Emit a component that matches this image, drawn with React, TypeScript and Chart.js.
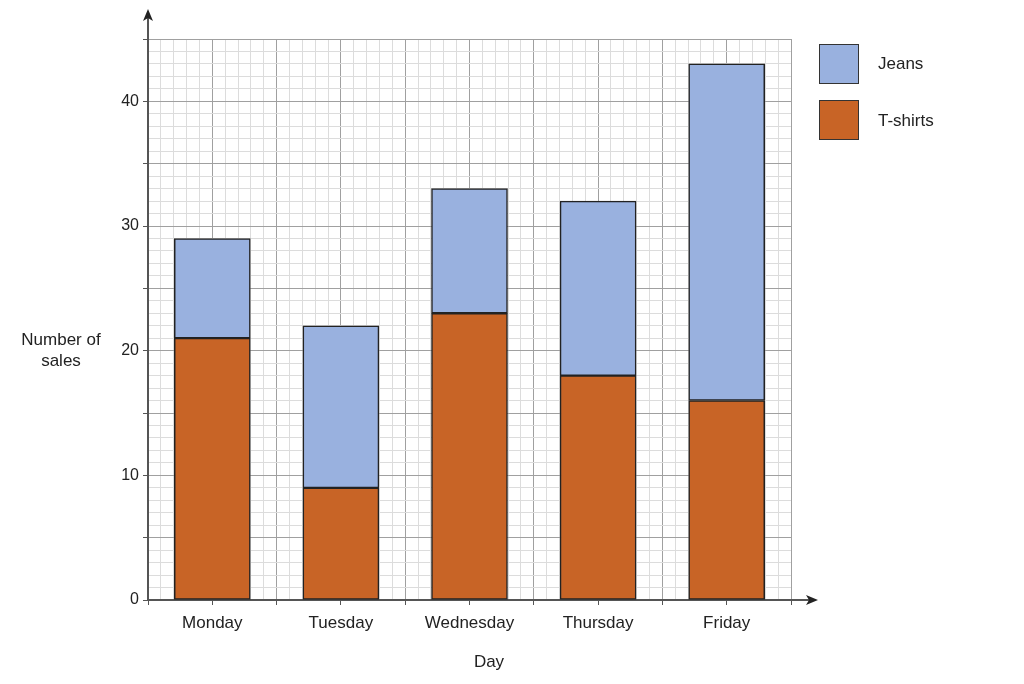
import React, { useEffect, useRef } from "react";
import { Chart, registerables } from "chart.js";

Chart.register(...registerables);

const days = ["Monday", "Tuesday", "Wednesday", "Thursday", "Friday"];
const dayPositions = [5, 15, 25, 35, 45];
const tshirts = [21, 9, 23, 18, 16];
const jeans = [8, 13, 10, 14, 27];
const yTickLabels = [0, 10, 20, 30, 40];

const FONT = "'Liberation Sans', Arial, sans-serif";
const JEANS_COLOR = "#99b1df";
const TSHIRT_COLOR = "#c86426";
const MAJOR = "#a0a0a0";
const MINOR = "#dcdcdc";

const arrowPlugin = {
  id: "axisArrows",
  afterDraw(chart: any) {
    const { ctx, chartArea } = chart;
    const { left, top, right, bottom } = chartArea;
    ctx.save();
    ctx.strokeStyle = "#555";
    ctx.fillStyle = "#222";
    ctx.lineWidth = 2;
    ctx.beginPath();
    ctx.moveTo(left, top);
    ctx.lineTo(left, 17);
    ctx.stroke();
    ctx.beginPath();
    ctx.moveTo(left, 9);
    ctx.lineTo(left - 5, 21);
    ctx.lineTo(left, 18);
    ctx.lineTo(left + 5, 21);
    ctx.closePath();
    ctx.fill();
    ctx.beginPath();
    ctx.moveTo(right, bottom);
    ctx.lineTo(right + 18, bottom);
    ctx.stroke();
    ctx.beginPath();
    ctx.moveTo(right + 27, bottom);
    ctx.lineTo(right + 15, bottom - 5);
    ctx.lineTo(right + 18, bottom);
    ctx.lineTo(right + 15, bottom + 5);
    ctx.closePath();
    ctx.fill();
    ctx.restore();
  },
};

export default function App() {
  const canvasRef = useRef<HTMLCanvasElement | null>(null);

  useEffect(() => {
    if (!canvasRef.current) return;
    const chart = new Chart(canvasRef.current, {
      type: "bar",
      data: {
        datasets: [
          {
            label: "T-shirts",
            data: dayPositions.map((x, i) => ({ x, y: tshirts[i] })),
            backgroundColor: TSHIRT_COLOR,
            borderColor: "#222",
            borderWidth: 1.5,
            borderSkipped: false,
            barThickness: 76,
          },
          {
            label: "Jeans",
            data: dayPositions.map((x, i) => ({ x, y: jeans[i] })),
            backgroundColor: JEANS_COLOR,
            borderColor: "#222",
            borderWidth: 1.5,
            borderSkipped: false,
            barThickness: 76,
          },
        ],
      },
      options: {
        responsive: false,
        animation: false,
        layout: { padding: { top: 39, right: 233, left: 0, bottom: 0 } },
        plugins: { legend: { display: false }, tooltip: { enabled: false } },
        scales: {
          x: {
            type: "linear",
            stacked: true,
            min: 0,
            max: 50,
            offset: false,
            afterFit(scale: any) {
              scale.height = 84;
            },
            border: { display: true, color: "#555", width: 2 },
            grid: {
              offset: false,
              color: (c: any) => (c.tick && c.tick.value % 5 === 0 ? MAJOR : MINOR),
              tickColor: (c: any) => (c.tick && c.tick.value % 5 === 0 ? "#555" : "rgba(0,0,0,0)"),
              tickLength: 5,
              lineWidth: 1,
            },
            ticks: {
              stepSize: 1,
              autoSkip: false,
              maxRotation: 0,
              minRotation: 0,
              padding: 8,
              color: "#222",
              font: { family: FONT, size: 17 },
              callback: (v: any) => {
                const i = dayPositions.indexOf(Number(v));
                return i >= 0 ? days[i] : "";
              },
            },
          },
          y: {
            type: "linear",
            stacked: true,
            min: 0,
            max: 45,
            afterFit(scale: any) {
              scale.width = 148;
            },
            border: { display: true, color: "#555", width: 2 },
            grid: {
              color: (c: any) => (c.tick && c.tick.value % 5 === 0 ? MAJOR : MINOR),
              tickColor: (c: any) => (c.tick && c.tick.value % 5 === 0 ? "#555" : "rgba(0,0,0,0)"),
              tickLength: 5,
              lineWidth: 1,
            },
            ticks: {
              stepSize: 1,
              autoSkip: false,
              padding: 4,
              color: "#222",
              font: { family: FONT, size: 16 },
              callback: (v: any) => (yTickLabels.includes(Number(v)) ? String(v) : ""),
            },
          },
        },
      },
      plugins: [arrowPlugin],
    } as any);
    return () => chart.destroy();
  }, []);

  const textStyle: React.CSSProperties = {
    position: "absolute",
    fontFamily: FONT,
    fontSize: 17,
    lineHeight: "21px",
    color: "#222",
    whiteSpace: "nowrap",
  };
  const box = (top: number, color: string): React.CSSProperties => ({
    position: "absolute",
    left: 819,
    top,
    width: 40,
    height: 40,
    boxSizing: "border-box",
    background: color,
    border: "1.5px solid #333",
  });

  return (
    <div style={{ position: "absolute", left: 0, top: 0, width: 1024, height: 684, background: "#fff" }}>
      <canvas ref={canvasRef} width={1024} height={684} style={{ display: "block" }} />
      <div style={{ ...textStyle, left: 11, width: 100, top: 329, textAlign: "center" }}>
        Number of
        <br />
        sales
      </div>
      <div style={{ ...textStyle, left: 439, width: 100, top: 651, textAlign: "center" }}>Day</div>
      <div style={box(44, JEANS_COLOR)} />
      <div style={box(100, TSHIRT_COLOR)} />
      <div style={{ ...textStyle, left: 878, top: 53 }}>Jeans</div>
      <div style={{ ...textStyle, left: 878, top: 110 }}>T-shirts</div>
    </div>
  );
}
